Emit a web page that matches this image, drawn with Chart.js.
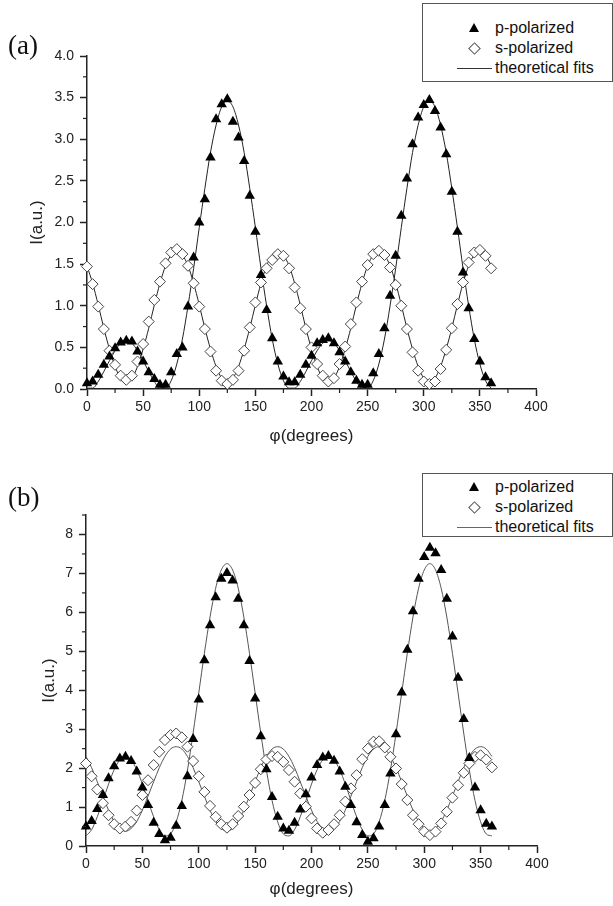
<!DOCTYPE html>
<html>
<head>
<meta charset="utf-8">
<script src="https://cdn.jsdelivr.net/npm/chart.js@4.4.1/dist/chart.umd.min.js"></script>
<style>
  html, body { margin: 0; padding: 0; background: #fff; }
  #page { position: relative; width: 613px; height: 906px; overflow: hidden;
          font-family: "Liberation Sans", Arial, sans-serif; }
  .panel { position: absolute; left: 0; width: 613px; height: 453px; }
  .tag { position: absolute; left: 8px; font-family: "Liberation Serif", "Times New Roman", serif;
         font-size: 27px; line-height: 30px; color: #111; }
  .legend { position: absolute; left: 422px; width: 189px; border: 1px solid #555; background: #fff; }
  .row { position: absolute; left: 0; width: 100%; height: 20px; }
  .txt { position: absolute; left: 72px; top: 0; font-size: 16px; line-height: 20px; color: #111; white-space: nowrap; }
  .tri { position: absolute; left: 46px; top: 5px; width: 0; height: 0;
         border-left: 5px solid transparent; border-right: 5px solid transparent; border-bottom: 9px solid #000; }
  .dia { position: absolute; left: 47px; top: 6px; width: 7px; height: 7px; border: 1px solid #555; transform: rotate(45deg); }
  .ln { position: absolute; left: 34px; top: 10px; width: 35px; border-top: 1px solid #333; }
</style>
</head>
<body>
<div id="page">
  <div class="panel" style="top:0"><canvas id="chartA" width="613" height="453"></canvas></div>
  <div class="panel" style="top:453px"><canvas id="chartB" width="613" height="453"></canvas></div>

  <div class="tag" style="top:30px">(a)</div>
  <div class="tag" style="top:482px">(b)</div>

  <div class="legend" style="top:3px; height:77px">
    <div class="row" style="top:14px"><div class="tri"></div><span class="txt">p-polarized</span></div>
    <div class="row" style="top:34px"><div class="dia"></div><span class="txt">s-polarized</span></div>
    <div class="row" style="top:54px"><div class="ln"></div><span class="txt">theoretical fits</span></div>
  </div>
  <div class="legend" style="top:473px; height:62px">
    <div class="row" style="top:3px"><div class="tri"></div><span class="txt">p-polarized</span></div>
    <div class="row" style="top:23px"><div class="dia"></div><span class="txt">s-polarized</span></div>
    <div class="row" style="top:43px"><div class="ln" style="border-color:#666"></div><span class="txt">theoretical fits</span></div>
  </div>
</div>

<script>
// polarizer angle, every 5 degrees
const angles = [0,5,10,15,20,25,30,35,40,45,50,55,60,65,70,75,80,85,90,95,
  100,105,110,115,120,125,130,135,140,145,150,155,160,165,170,175,180,185,190,195,
  200,205,210,215,220,225,230,235,240,245,250,255,260,265,270,275,280,285,290,295,
  300,305,310,315,320,325,330,335,340,345,350,355,360];

// panel (a)
const pA = [0.07,0.09,0.17,0.29,0.39,0.49,0.56,0.58,0.57,0.45,
  0.33,0.20,0.12,0.05,0.05,0.20,0.42,0.50,0.99,1.58,
  2.00,2.28,2.78,3.24,3.42,3.48,3.21,3.02,2.74,2.32,
  1.89,1.37,0.95,0.61,0.33,0.15,0.08,0.08,0.17,0.29,
  0.40,0.55,0.59,0.61,0.55,0.44,0.33,0.20,0.10,0.05,
  0.05,0.19,0.42,0.73,1.12,1.60,2.08,2.53,2.94,3.26,
  3.41,3.47,3.34,3.14,2.82,2.37,1.89,1.40,0.97,0.60,
  0.33,0.14,0.07];
const sA = [1.47,1.26,0.99,0.72,0.46,0.29,0.16,0.11,0.16,0.33,
  0.54,0.81,1.07,1.29,1.51,1.64,1.68,1.62,1.48,1.27,
  0.99,0.72,0.45,0.22,0.10,0.06,0.11,0.22,0.46,0.74,
  1.04,1.28,1.45,1.55,1.62,1.60,1.45,1.22,0.97,0.72,
  0.50,0.30,0.16,0.09,0.13,0.30,0.51,0.78,1.04,1.29,
  1.49,1.62,1.66,1.61,1.46,1.25,1.00,0.72,0.44,0.22,
  0.09,0.06,0.09,0.24,0.47,0.73,1.02,1.28,1.52,1.64,
  1.67,1.60,1.45];
const pFitA = [0.01,0.01,0.09,0.21,0.34,0.46,0.55,0.58,0.55,0.46,
  0.34,0.21,0.09,0.01,0.01,0.10,0.30,0.60,1.00,1.45,
  1.94,2.41,2.84,3.17,3.39,3.46,3.39,3.17,2.84,2.41,
  1.94,1.45,1.00,0.60,0.30,0.10,0.01,0.01,0.09,0.21,
  0.34,0.46,0.55,0.58,0.55,0.46,0.34,0.21,0.09,0.01,
  0.01,0.10,0.30,0.60,1.00,1.45,1.94,2.41,2.84,3.17,
  3.39,3.46,3.39,3.17,2.84,2.41,1.94,1.45,1.00,0.60,
  0.30,0.10,0.01];
const sFitA = [1.48,1.27,1.01,0.73,0.48,0.27,0.13,
  0.08,0.13,0.27,0.48,0.73,1.01,1.27,1.48,1.61,1.66,1.61,1.48,1.27,1.01,0.73,0.48,0.27,0.13,
  0.08,0.13,0.27,0.48,0.73,1.01,1.27,1.48,1.61,1.66,1.61,1.48,1.27,1.01,0.73,0.48,0.27,0.13,
  0.08,0.13,0.27,0.48,0.73,1.01,1.27,1.48,1.61,1.66,1.61,1.48,1.27,1.01,0.73,0.48,0.27,0.13,
  0.08,0.13,0.27,0.48,0.73,1.01,1.27,1.48,1.61,1.66,1.61,1.48];

// panel (b)
const pB = [0.50,0.64,0.95,1.31,1.74,2.05,2.25,2.29,2.18,1.91,
  1.50,1.05,0.60,0.31,0.15,0.21,0.52,1.03,1.79,2.75,
  3.76,4.77,5.67,6.39,6.86,7.01,6.82,6.35,5.67,4.75,
  3.79,2.82,1.97,1.26,0.75,0.45,0.39,0.60,0.94,1.33,
  1.76,2.08,2.27,2.31,2.19,1.91,1.52,1.05,0.61,0.28,
  0.11,0.20,0.50,1.05,1.86,2.87,3.94,5.04,6.03,6.86,
  7.42,7.66,7.52,7.09,6.35,5.38,4.32,3.26,2.26,1.50,
  0.92,0.57,0.50];
const sB = [2.12,1.79,1.45,1.10,0.79,0.56,0.45,0.50,0.62,0.91,
  1.31,1.69,2.08,2.42,2.72,2.85,2.89,2.79,2.55,2.18,
  1.79,1.39,1.03,0.75,0.56,0.47,0.56,0.77,1.01,1.31,
  1.62,1.97,2.22,2.31,2.29,2.16,1.95,1.65,1.35,1.01,
  0.71,0.45,0.34,0.41,0.56,0.79,1.14,1.48,1.82,2.23,
  2.50,2.68,2.69,2.53,2.29,1.99,1.59,1.18,0.79,0.56,
  0.37,0.28,0.37,0.58,0.88,1.24,1.56,1.88,2.12,2.29,
  2.33,2.22,2.02];
const pFitB = [0.26,0.42,0.75,1.16,1.59,1.96,2.21,2.30,2.21,1.96,
  1.59,1.16,0.75,0.42,0.26,0.31,0.62,1.17,1.95,2.90,
  3.93,4.95,5.88,6.62,7.09,7.25,7.09,6.62,5.88,4.95,
  3.93,2.90,1.95,1.17,0.62,0.31,0.26,0.42,0.75,1.16,
  1.59,1.96,2.21,2.30,2.21,1.96,1.59,1.16,0.75,0.42,
  0.26,0.31,0.62,1.17,1.95,2.90,3.93,4.95,5.88,6.62,
  7.09,7.25,7.09,6.62,5.88,4.95,3.93,2.90,1.95,1.17,
  0.62,0.31,0.26];
const sFitB = [2.30,2.01,1.65,1.28,0.92,0.63,0.45,
  0.38,0.45,0.63,0.92,1.28,1.65,2.01,2.30,2.49,2.55,2.49,2.30,2.01,1.65,1.28,0.92,0.63,0.45,
  0.38,0.45,0.63,0.92,1.28,1.65,2.01,2.30,2.49,2.55,2.49,2.30,2.01,1.65,1.28,0.92,0.63,0.45,
  0.38,0.45,0.63,0.92,1.28,1.65,2.01,2.30,2.49,2.55,2.49,2.30,2.01,1.65,1.28,0.92,0.63,0.45,
  0.38,0.45,0.63,0.92,1.28,1.65,2.01,2.30,2.49,2.55,2.49,2.30];

Chart.defaults.font.family = '"Liberation Sans", Arial, sans-serif';
Chart.defaults.color = '#222';

const AXIS = '#222';

function pts(xs, ys) {
  return xs.map((x, i) => ({ x: x, y: ys[i] }));
}

function isMajor(v, step) {
  return Math.abs(v / step - Math.round(v / step)) < 1e-6;
}

// short unlabeled ticks between the labelled ones
const minorTicks = {
  id: 'minorTicks',
  afterDraw(chart) {
    const ctx = chart.ctx;
    const xs = chart.scales.x, ys = chart.scales.y;
    ctx.save();
    ctx.strokeStyle = AXIS;
    ctx.lineWidth = 1.2;
    xs.ticks.forEach(t => {
      if (isMajor(t.value, xs.options.majorStep)) return;
      const px = xs.getPixelForValue(t.value);
      ctx.beginPath(); ctx.moveTo(px, xs.top); ctx.lineTo(px, xs.top + 4); ctx.stroke();
    });
    ys.ticks.forEach(t => {
      if (isMajor(t.value, ys.options.majorStep)) return;
      const py = ys.getPixelForValue(t.value);
      ctx.beginPath(); ctx.moveTo(ys.right, py); ctx.lineTo(ys.right - 4, py); ctx.stroke();
    });
    ctx.restore();
  }
};

function makePanel(id, p, s, pFit, sFit, o) {
  new Chart(document.getElementById(id), {
    type: 'scatter',
    data: {
      datasets: [
        { label: 'p-polarized', data: pts(angles, p), pointStyle: 'triangle', pointRadius: 6,
          backgroundColor: '#000', borderColor: '#000', borderWidth: 0, order: 1, clip: false },
        { label: 's-polarized', data: pts(angles, s), pointStyle: 'rectRot', pointRadius: 5.5,
          backgroundColor: '#fff', borderColor: '#444', borderWidth: 1, order: 2, clip: false },
        { label: 'p fit', data: pts(angles, pFit), showLine: true, pointRadius: 0,
          borderColor: o.fitColor, borderWidth: 1, cubicInterpolationMode: 'monotone', order: 3 },
        { label: 's fit', data: pts(angles, sFit), showLine: true, pointRadius: 0,
          borderColor: o.fitColor, borderWidth: 1, cubicInterpolationMode: 'monotone', order: 3 }
      ]
    },
    options: {
      responsive: false,
      animation: false,
      events: [],
      layout: { padding: o.padding },
      plugins: { legend: { display: false }, tooltip: { enabled: false } },
      scales: {
        x: {
          type: 'linear', min: 0, max: 400, majorStep: 50,
          afterFit: sc => { sc.height = o.xHeight; },
          border: { color: AXIS, width: 1.5 },
          grid: { drawOnChartArea: false, tickLength: 7, tickWidth: 1.5,
                  tickColor: c => isMajor(c.tick.value, 50) ? AXIS : 'rgba(0,0,0,0)' },
          ticks: { stepSize: 25, maxTicksLimit: 100, autoSkip: false, maxRotation: 0, padding: 3,
                   color: AXIS, font: { size: 14 },
                   callback: v => isMajor(v, 50) ? String(v) : '' },
          title: { display: true, text: 'φ(degrees)', color: AXIS, font: { size: 17 },
                   padding: { top: 4, bottom: 4 } }
        },
        y: {
          type: 'linear', min: 0, max: o.yMax, majorStep: o.yMajor,
          afterFit: sc => { sc.width = o.yWidth; },
          border: { color: AXIS, width: 1.5 },
          grid: { drawOnChartArea: false, tickLength: 7, tickWidth: 1.5,
                  tickColor: c => isMajor(c.tick.value, o.yMajor) ? AXIS : 'rgba(0,0,0,0)' },
          ticks: { stepSize: o.yMinor, maxTicksLimit: 100, autoSkip: false, padding: 6,
                   color: AXIS, font: { size: 14 },
                   callback: v => isMajor(v, o.yMajor) ? v.toFixed(o.digits) : '' },
          title: { display: true, text: 'I(a.u.)', color: AXIS, font: { size: 17 },
                   padding: { top: 4, bottom: 4 } }
        }
      }
    },
    plugins: [minorTicks]
  });
}

makePanel('chartA', pA, sA, pFitA, sFitA, {
  fitColor: '#222', yMax: 4, yMajor: 0.5, yMinor: 0.25, digits: 1,
  yWidth: 64, xHeight: 62,
  padding: { left: 23, right: 77, top: 56, bottom: 2 }
});

makePanel('chartB', pB, sB, pFitB, sFitB, {
  fitColor: '#555', yMax: 8.5, yMajor: 1, yMinor: 0.5, digits: 0,
  yWidth: 51, xHeight: 58,
  padding: { left: 35, right: 76, top: 62, bottom: 2 }
});
</script>
</body>
</html>
